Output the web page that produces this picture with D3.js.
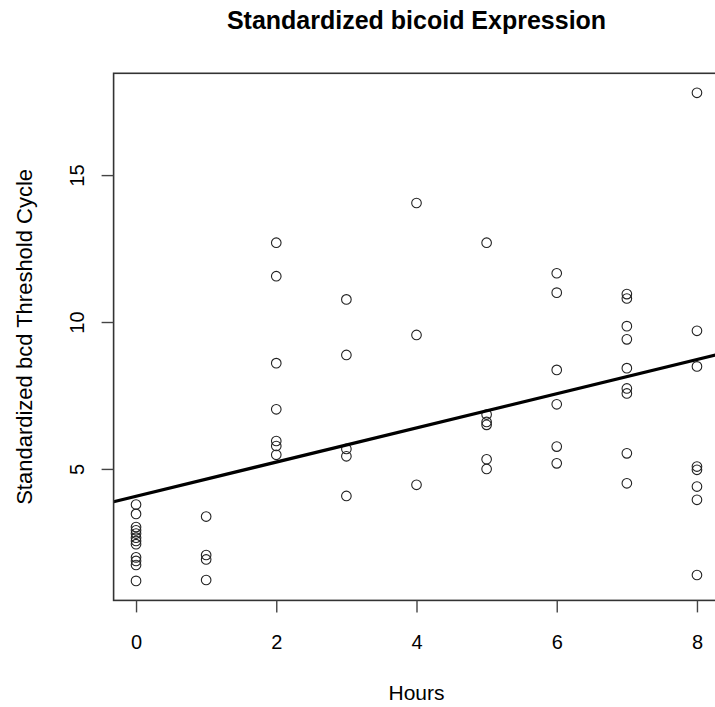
<!DOCTYPE html>
<html>
<head>
<meta charset="utf-8">
<script src="https://cdn.jsdelivr.net/npm/d3@7"></script>
<style>
  html, body { margin: 0; padding: 0; background: #fff; }
  svg { display: block; }
  text { font-family: "Liberation Sans", Arial, Helvetica, sans-serif; fill: #000; }
</style>
</head>
<body>
<svg id="chart" width="715" height="707"></svg>
<script>
// ---- data ----
const hours = [0,0,0,0,0,0,0,0,0,0,0,0,
               1,1,1,1,
               2,2,2,2,2,2,2,
               3,3,3,3,3,
               4,4,4,
               5,5,5,5,5,5,
               6,6,6,6,6,6,
               7,7,7,7,7,7,7,7,7,
               8,8,8,8,8,8,8,8];
const threshold = [3.79,3.47,3.02,2.91,2.80,2.66,2.55,2.44,1.99,1.87,1.73,1.19,
                   3.38,2.07,1.92,1.22,
                   12.70,11.56,8.60,7.03,5.95,5.78,5.48,
                   10.77,8.88,5.68,5.43,4.08,
                   14.05,9.56,4.46,
                   12.70,6.85,6.60,6.50,5.33,5.00,
                   11.66,11.00,8.37,7.20,5.76,5.19,
                   10.95,10.80,9.86,9.41,8.43,7.74,7.57,5.53,4.51,
                   17.80,9.70,8.49,5.08,4.97,4.40,3.95,1.39];
const xTicks = [0,2,4,6,8];
const yTicks = [5,10,15];
const fitCoef = [4.07, 0.582]; // intercept, slope of the fitted line
const titleText = "Standardized bicoid Expression";
const xLabel = "Hours";
const yLabel = "Standardized bcd Threshold Cycle";

// ---- drawing ----
const svg = d3.select("#chart");
const plot = {left: 113.6, right: 719.4, top: 73.3, bottom: 600.4};

const xExt = [d3.min(hours), d3.max(hours)];
const yExt = [d3.min(threshold), d3.max(threshold)];
const xPad = (xExt[1]-xExt[0])*0.04, yPad = (yExt[1]-yExt[0])*0.04;
const x = d3.scaleLinear().domain([xExt[0]-xPad, xExt[1]+xPad]).range([plot.left, plot.right]);
const y = d3.scaleLinear().domain([yExt[0]-yPad, yExt[1]+yPad]).range([plot.bottom, plot.top]);

// points
svg.append("g").selectAll("circle")
  .data(hours.map((h,i)=>({h, v: threshold[i]})))
  .join("circle")
  .attr("cx", d=>x(d.h)).attr("cy", d=>y(d.v)).attr("r", 4.8)
  .attr("fill", "none").attr("stroke", "#222").attr("stroke-width", 1.1);

// regression line, clipped to plot
svg.append("clipPath").attr("id","clip").append("rect")
  .attr("x", plot.left).attr("y", plot.top)
  .attr("width", plot.right-plot.left).attr("height", plot.bottom-plot.top);
const xd = x.domain();
svg.append("line")
  .attr("clip-path","url(#clip)")
  .attr("x1", x(xd[0])).attr("y1", y(fitCoef[0]+fitCoef[1]*xd[0]))
  .attr("x2", x(xd[1])).attr("y2", y(fitCoef[0]+fitCoef[1]*xd[1]))
  .attr("stroke", "#000").attr("stroke-width", 3.2);

// box
svg.append("rect")
  .attr("x", plot.left).attr("y", plot.top)
  .attr("width", plot.right-plot.left).attr("height", plot.bottom-plot.top)
  .attr("fill","none").attr("stroke","#333").attr("stroke-width",1.6);

// x axis
const gx = svg.append("g").attr("transform", `translate(0,${plot.bottom})`)
  .call(d3.axisBottom(x).tickValues(xTicks).tickSize(12).tickPadding(22).tickSizeOuter(0));
gx.select(".domain").remove();
gx.selectAll(".tick line").attr("stroke","#444").attr("stroke-width",1.4);
gx.selectAll(".tick text").attr("font-size", 20).attr("font-family", "Liberation Sans, Arial, sans-serif").attr("fill","#111");

// y axis
const gy = svg.append("g").attr("transform", `translate(${plot.left},0)`)
  .call(d3.axisLeft(y).tickValues(yTicks).tickSize(12).tickSizeOuter(0));
gy.select(".domain").remove();
gy.selectAll(".tick line").attr("stroke","#444").attr("stroke-width",1.4);
gy.selectAll(".tick text")
  .attr("font-size", 20).attr("font-family", "Liberation Sans, Arial, sans-serif").attr("fill","#111")
  .attr("x", null).attr("dy", null)
  .attr("text-anchor","middle")
  .attr("transform", "translate(-30,0) rotate(-90)");

// titles
const cx = (plot.left+plot.right)/2, cy = (plot.top+plot.bottom)/2;
svg.append("text").attr("x", cx).attr("y", 29).attr("text-anchor","middle")
  .attr("font-size", 25).attr("font-weight","bold").text(titleText);
svg.append("text").attr("x", cx).attr("y", 700).attr("text-anchor","middle")
  .attr("font-size", 21).attr("fill","#111").text(xLabel);
svg.append("text").attr("transform", `translate(32,${cy}) rotate(-90)`).attr("text-anchor","middle")
  .attr("font-size", 22).attr("fill","#111").text(yLabel);
</script>
</body>
</html>
